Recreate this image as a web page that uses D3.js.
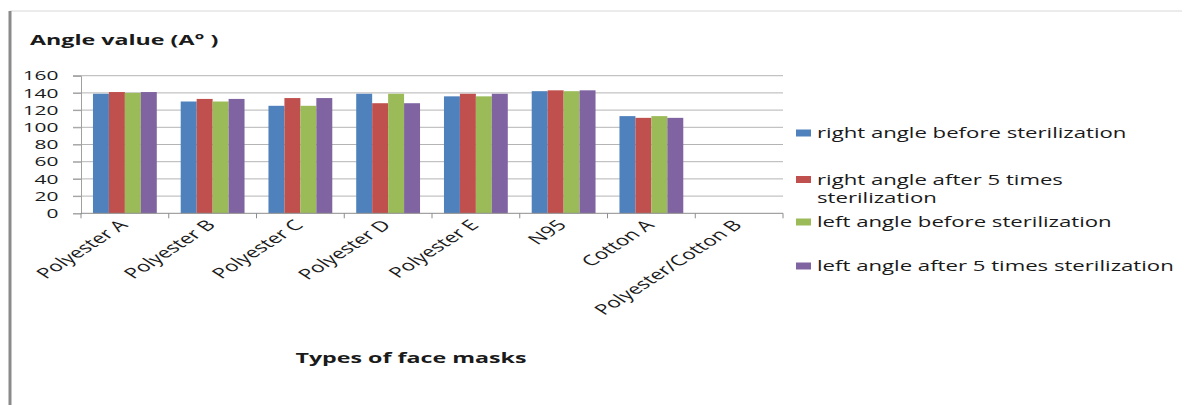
<!DOCTYPE html>
<html>
<head>
<meta charset="utf-8">
<script src="https://cdn.jsdelivr.net/npm/d3@7"></script>
<style>
  html, body { margin: 0; padding: 0; background: #fff; }
  svg { display: block; font-family: "Open Sans", sans-serif; }
</style>
</head>
<body>
<svg id="chart" width="1187" height="405"></svg>
<script>
// Contact angle of face mask materials, before and after 5 sterilization cycles
const categories = ["Polyester A", "Polyester B", "Polyester C", "Polyester D",
                    "Polyester E", "N95", "Cotton A", "Polyester/Cotton B"];
const seriesNames = ["right angle before sterilization",
                     "right angle after 5 times sterilization",
                     "left angle before sterilization",
                     "left angle after 5 times sterilization"];
const rightBefore = [139, 130, 125, 139, 136, 142, 113, null];
const rightAfter  = [141, 133, 134, 128, 139, 143, 111, null];
const leftBefore  = [140, 130, 125, 139, 136, 142, 113, null];
const leftAfter   = [141, 133, 134, 128, 139, 143, 111, null];
const yTicks = [0, 20, 40, 60, 80, 100, 120, 140, 160];
const colors = ["#4F81BD", "#C0504D", "#9BBB59", "#8064A2"];

const series = [rightBefore, rightAfter, leftBefore, leftAfter];
const SX = 1.55; // horizontal text stretch used throughout the figure

const svg = d3.select("#chart");

// frame
svg.append("line").attr("x1", 10).attr("x2", 1182).attr("y1", 11).attr("y2", 11)
  .attr("stroke", "#d8d8d8").attr("stroke-width", 1);
svg.append("line").attr("x1", 10).attr("x2", 10).attr("y1", 11).attr("y2", 405)
  .attr("stroke", "#8a8a8a").attr("stroke-width", 3);

const plot = { left: 81, right: 783, top: 75.7, bottom: 213.3 };

const x0 = d3.scaleBand().domain(categories).range([plot.left, plot.right]).padding(0);
const gap = x0.bandwidth() * 1.5 / 5.5;
const x1 = d3.scaleBand().domain(d3.range(series.length))
  .range([gap / 2, x0.bandwidth() - gap / 2]).padding(0);
const y = d3.scaleLinear().domain([0, 160]).range([plot.bottom, plot.top]);

function stretchedText(g, x, yPos, txt, opts) {
  return g.append("text")
    .attr("transform", `translate(${x},${yPos}) scale(${SX},1)` + (opts.rotate ? ` rotate(${opts.rotate})` : ""))
    .attr("text-anchor", opts.anchor || "start")
    .attr("font-size", opts.size)
    .attr("font-weight", opts.weight || "normal")
    .attr("fill", opts.fill || "#1a1a1a")
    .text(txt);
}

// gridlines
const grid = svg.append("g");
grid.selectAll("line").data(yTicks.filter(d => d > 0)).join("line")
  .attr("x1", 73).attr("x2", plot.right)
  .attr("y1", d => y(d)).attr("y2", d => y(d))
  .attr("stroke", "#b4b4b4").attr("stroke-width", 1);

// y axis
const yAxis = svg.append("g").attr("transform", `translate(${plot.left},0)`)
  .call(d3.axisLeft(y).tickValues(yTicks).tickSize(8).tickFormat(() => ""));
yAxis.select(".domain").attr("stroke", "#a0a0a0");
yAxis.selectAll(".tick line").attr("stroke", "#a0a0a0");
const yLab = svg.append("g");
yTicks.forEach(v => stretchedText(yLab, 58.5, y(v) + 4.6, String(v), { anchor: "end", size: 13.5 }));

// bars
const groups = svg.append("g").selectAll("g").data(categories).join("g")
  .attr("transform", d => `translate(${x0(d)},0)`);
groups.selectAll("rect")
  .data((d, i) => series.map((s, k) => ({ k, v: s[i] })).filter(e => e.v != null))
  .join("rect")
  .attr("x", d => x1(d.k))
  .attr("width", x1.bandwidth())
  .attr("y", d => y(d.v))
  .attr("height", d => y(0) - y(d.v))
  .attr("fill", d => colors[d.k]);

// x axis
const xAxis = svg.append("g").attr("transform", `translate(0,${plot.bottom})`);
xAxis.append("line").attr("x1", plot.left).attr("x2", plot.right)
  .attr("stroke", "#8c8c8c").attr("stroke-width", 1);
const boundaries = categories.map(c => x0(c)).concat([plot.right]);
xAxis.selectAll(".tk").data(boundaries).join("line").attr("class", "tk")
  .attr("x1", d => d).attr("x2", d => d).attr("y1", 0).attr("y2", 5)
  .attr("stroke", "#8c8c8c");
const xLab = svg.append("g");
categories.forEach(c => stretchedText(xLab, x0(c) + x0.bandwidth() / 2 + 4, 226, c,
  { anchor: "end", size: 14.5, rotate: -45 }));

// axis titles
stretchedText(svg, 30, 45, "Angle value (A\u00B0 )", { size: 15, weight: "bold" });
stretchedText(svg, 411, 363, "Types of face masks", { anchor: "middle", size: 15, weight: "bold" });

// legend
const legend = svg.append("g");
const legendRows = [
  { lines: ["right angle before sterilization"], y: 138 },
  { lines: ["right angle after 5 times", "sterilization"], y: 184.5 },
  { lines: ["left angle before sterilization"], y: 227 },
  { lines: ["left angle after 5 times sterilization"], y: 271 }
];
legendRows.forEach((row, i) => {
  legend.append("rect").attr("x", 796).attr("y", row.y - 8.5)
    .attr("width", 15).attr("height", 7).attr("fill", colors[i]);
  row.lines.forEach((ln, j) => stretchedText(legend, 817, row.y + j * 18, ln, { size: 14.3 }));
});
</script>
</body>
</html>
